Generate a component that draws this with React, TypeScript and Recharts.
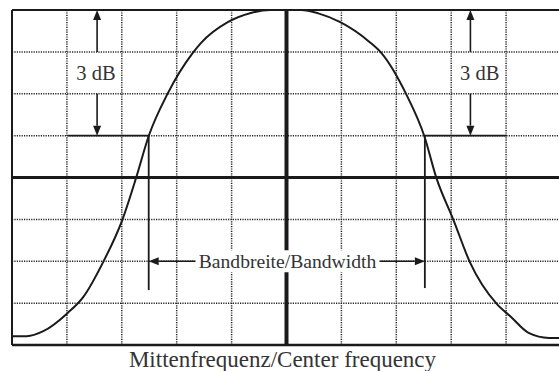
import React from 'react';
import {
  ComposedChart,
  Line,
  XAxis,
  YAxis,
  CartesianGrid,
  ReferenceLine,
  ReferenceDot,
} from 'recharts';

// x: frequency offset in graticule divisions from centre, y: level in divisions (top = 8)
const freqDiv = [
  -5, -4.73, -4.43, -3.99, -3.7, -3.34, -2.99, -2.74, -2.51, -2.17, -1.71, -1.56, -1.07, -0.65, -0.3,
  0.27, 0.58, 0.98, 1.5, 1.73, 2.18, 2.51, 2.73, 3.04, 3.34, 3.83, 4.09, 4.41, 4.78, 5,
];
const levelDiv = [
  0.21, 0.21, 0.33, 0.76, 1.15, 1.98, 2.99, 3.99, 4.99, 5.99, 6.97, 7.21, 7.71, 7.93, 8,
  8, 7.92, 7.71, 7.25, 6.97, 5.99, 4.99, 3.99, 2.99, 1.98, 0.98, 0.67, 0.29, 0.17, 0.17,
];

const xTicks = [-5, -4, -3, -2, -1, 0, 1, 2, 3, 4, 5];
const yTicks = [0, 1, 2, 3, 4, 5, 6, 7, 8];

// 3 dB markers
const refLevel = 8;
const shelfLevel = 5;
const dbArrowX = [-3.45, 3.35];
const dbTextX = [-3.47, 3.52];
const dbTextLevel = 6.5;
const shelfLeft = [-3.98, -2.51];
const shelfRight = [2.52, 4.01];
const markerBottom = [1.31, 1.36];

// bandwidth arrows
const bwLevel = 2;
const bwTail = [-1.65, 1.69];

const INK = '#1a1a1a';
const TEXT = '#333';
const FONT = "'Liberation Serif', 'Times New Roman', 'DejaVu Serif', serif";

const data = freqDiv.map((f, i) => ({ f, level: levelDiv[i] }));

// ticks stay invisible but must be truthy, otherwise the grid gets no lines
const NoTick = () => null;

function ArrowShape(props: any) {
  const { x1, y1, x2, y2 } = props;
  const dx = x2 - x1;
  const dy = y2 - y1;
  const len = Math.hypot(dx, dy) || 1;
  const ux = dx / len;
  const uy = dy / len;
  const head = 10;
  const half = 4;
  const bx = x2 - ux * head;
  const by = y2 - uy * head;
  const pts = `${x2},${y2} ${bx - uy * half},${by + ux * half} ${bx + uy * half},${by - ux * half}`;
  return (
    <g>
      <line x1={x1} y1={y1} x2={bx} y2={by} stroke={INK} strokeWidth={1.6} />
      <polygon points={pts} fill={INK} />
    </g>
  );
}

function DbText(props: any) {
  return (
    <text x={props.cx} y={props.cy + 7} textAnchor="middle" style={{ fontFamily: FONT, fontSize: 20.5 }} fill={TEXT}>
      3 dB
    </text>
  );
}

function BandwidthText(props: any) {
  return (
    <g>
      <rect x={props.cx - 91} y={props.cy - 11} width={184} height={22} fill="#fff" />
      <text x={props.cx + 1} y={props.cy + 7} textAnchor="middle" style={{ fontFamily: FONT, fontSize: 19.6 }} fill={TEXT}>
        Bandbreite/Bandwidth
      </text>
    </g>
  );
}

function AxisTitle(props: any) {
  const vb = props.viewBox;
  return (
    <text
      x={vb.x + vb.width / 2 - 4}
      y={vb.y + 22}
      textAnchor="middle"
      style={{ fontFamily: FONT, fontSize: 23 }}
      fill={TEXT}
    >
      Mittenfrequenz/Center frequency
    </text>
  );
}

export default function App() {
  // the graticule runs past the right edge of the picture, so the svg is a bit wider and clipped
  return (
    <div style={{ position: 'absolute', left: 0, top: 0, width: 559, height: 371, background: '#fff', overflow: 'hidden' }}>
      <ComposedChart width={561} height={371} data={data} margin={{ top: 10, right: 0, left: 0, bottom: 0 }}>
        <CartesianGrid stroke="#222" strokeWidth={1.5} strokeDasharray="1.2 1.2" />
        <XAxis
          type="number"
          dataKey="f"
          domain={[-5, 5]}
          ticks={xTicks}
          interval={0}
          tick={NoTick}
          tickLine={false}
          height={26}
          axisLine={{ stroke: INK, strokeWidth: 2.5 }}
          label={{ content: AxisTitle }}
        />
        <YAxis
          type="number"
          domain={[0, 8]}
          ticks={yTicks}
          interval={0}
          tick={NoTick}
          tickLine={false}
          width={12}
          axisLine={{ stroke: INK, strokeWidth: 2 }}
        />
        <ReferenceLine y={refLevel} stroke={INK} strokeWidth={2} />
        <ReferenceLine x={0} stroke={INK} strokeWidth={4} />
        <ReferenceLine y={4} stroke={INK} strokeWidth={3} />

        {/* 3 dB shelves and markers */}
        <ReferenceLine segment={[{ x: shelfLeft[0], y: shelfLevel }, { x: shelfLeft[1], y: shelfLevel }]} stroke={INK} strokeWidth={1.6} />
        <ReferenceLine segment={[{ x: shelfRight[0], y: shelfLevel }, { x: shelfRight[1], y: shelfLevel }]} stroke={INK} strokeWidth={1.6} />
        <ReferenceLine segment={[{ x: shelfLeft[1], y: shelfLevel }, { x: shelfLeft[1], y: markerBottom[0] }]} stroke={INK} strokeWidth={1.8} />
        <ReferenceLine segment={[{ x: shelfRight[0], y: shelfLevel }, { x: shelfRight[0], y: markerBottom[1] }]} stroke={INK} strokeWidth={1.8} />

        {dbArrowX.map((x) => (
          <ReferenceLine key={`up${x}`} segment={[{ x, y: 7 }, { x, y: refLevel }]} shape={ArrowShape} />
        ))}
        {dbArrowX.map((x) => (
          <ReferenceLine key={`dn${x}`} segment={[{ x, y: 6 }, { x, y: shelfLevel }]} shape={ArrowShape} />
        ))}

        {/* bandwidth arrows */}
        <ReferenceLine segment={[{ x: bwTail[0], y: bwLevel }, { x: shelfLeft[1], y: bwLevel }]} shape={ArrowShape} />
        <ReferenceLine segment={[{ x: bwTail[1], y: bwLevel }, { x: shelfRight[0], y: bwLevel }]} shape={ArrowShape} />

        <Line
          type="monotone"
          dataKey="level"
          stroke={INK}
          strokeWidth={2}
          dot={false}
          activeDot={false}
          isAnimationActive={false}
        />

        {dbTextX.map((x) => (
          <ReferenceDot key={`t${x}`} x={x} y={dbTextLevel} r={1} shape={DbText} ifOverflow="visible" />
        ))}
        <ReferenceDot x={0} y={bwLevel} r={1} shape={BandwidthText} ifOverflow="visible" />
      </ComposedChart>
    </div>
  );
}
